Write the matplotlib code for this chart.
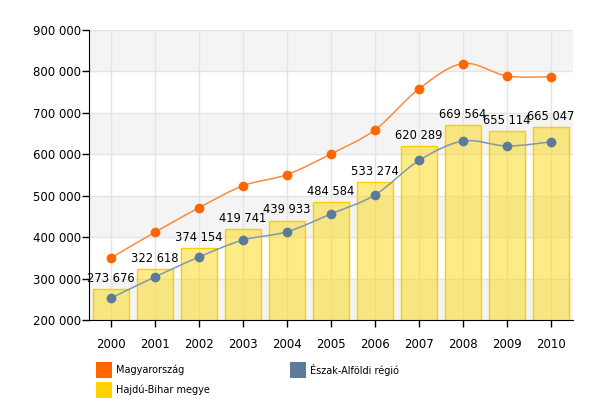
import matplotlib
matplotlib.use("Agg")
import matplotlib.pyplot as plt
from matplotlib.path import Path
from matplotlib.patches import PathPatch, Rectangle
import numpy as np

years = ["2000", "2001", "2002", "2003", "2004", "2005", "2006", "2007", "2008", "2009", "2010"]
hajdu_bihar = [273676, 322618, 374154, 419741, 439933, 484584, 533274, 620289, 669564, 655114, 665047]
magyarorszag = [350000, 412000, 471000, 524000, 551000, 601000, 659000, 758000, 819000, 789000, 787000]
eszak_alfold = [253000, 304000, 352000, 393000, 413000, 456000, 502000, 585000, 632000, 620000, 630000]

yticks = [200000, 300000, 400000, 500000, 600000, 700000, 800000, 900000]

def fmt(v):
    return f"{int(v):,}".replace(",", " ")

def spline_path(xs, ys):
    # smooth bezier curve through the data points (display style only)
    verts = [(xs[0], ys[0])]
    codes = [Path.MOVETO]
    n = len(xs)
    for i in range(n - 1):
        x0, y0 = xs[i], ys[i]
        x1, y1 = xs[i + 1], ys[i + 1]
        xp, yp = (xs[i - 1], ys[i - 1]) if i > 0 else (x0, y0)
        xn, yn = (xs[i + 2], ys[i + 2]) if i + 2 < n else (x1, y1)
        c1 = (x0 + (x1 - xp) / 6.0, y0 + (y1 - yp) / 6.0)
        c2 = (x1 - (xn - x0) / 6.0, y1 - (yn - y0) / 6.0)
        verts += [c1, c2, (x1, y1)]
        codes += [Path.CURVE4, Path.CURVE4, Path.CURVE4]
    return Path(verts, codes)

fig = plt.figure(figsize=(6.02, 4.15), dpi=100)
ax = fig.add_axes([89 / 602, 1 - 320 / 415, 484 / 602, 290 / 415])

x = np.arange(len(years))
ax.set_xlim(-0.5, len(years) - 0.5)
ax.set_ylim(200000, 900000)

# alternating bands
for i, lo in enumerate(yticks[:-1]):
    if i % 2 == 0:
        ax.axhspan(lo, lo + 100000, color="#F4F4F4", zorder=0, lw=0)

ax.set_yticks(yticks)
ax.set_yticklabels([fmt(v) for v in yticks])
ax.set_xticks(x)
ax.set_xticklabels(years)
ax.grid(True, color="#E4E4E4", lw=1, zorder=0.5)
ax.set_axisbelow(True)

ax.bar(x, hajdu_bihar, width=0.8, bottom=0, facecolor=(0.98, 0.85, 0.1, 0.52),
       edgecolor="#FFCC00", lw=1, zorder=2)

for xs_, ys_, lc, mc in [(x, magyarorszag, "#FF8A3C", "#FF6600"),
                         (x, eszak_alfold, "#8097B2", "#5C7A9A")]:
    p = spline_path(list(xs_), list(ys_))
    ax.add_patch(PathPatch(p, facecolor="none", edgecolor=lc, lw=1.1, zorder=3))
    ax.plot(xs_, ys_, ls="none", marker="o", ms=6, color=mc, mec=mc, zorder=4)

for xi, v in zip(x, hajdu_bihar):
    ax.annotate(fmt(v), (xi, v), xytext=(0, 3), textcoords="offset points",
                ha="center", va="bottom", fontsize=8.3, color="black", zorder=5)

for s in ["top", "right"]:
    ax.spines[s].set_visible(False)
ax.spines["left"].set_color("black")
ax.spines["bottom"].set_color("black")
ax.tick_params(axis="both", colors="black", labelsize=8.5, length=5, width=1)
ax.tick_params(axis="y", pad=1)
ax.tick_params(axis="x", pad=8)

# legend
legend_items = [("Magyarország", "#FF6600", 96, 362),
                ("Észak-Alföldi régió", "#5C7A9A", 290, 362),
                ("Hajdú-Bihar megye", "#FFD200", 96, 382)]
for label, col, px, py in legend_items:
    fig.patches.append(Rectangle((px / 602, 1 - (py + 16) / 415), 16 / 602, 16 / 415,
                                 transform=fig.transFigure, facecolor=col, edgecolor="none"))
    fig.text((px + 20) / 602, 1 - (py + 8) / 415, label, fontsize=7, va="center", ha="left")

fig.savefig("out.png", dpi=100)
